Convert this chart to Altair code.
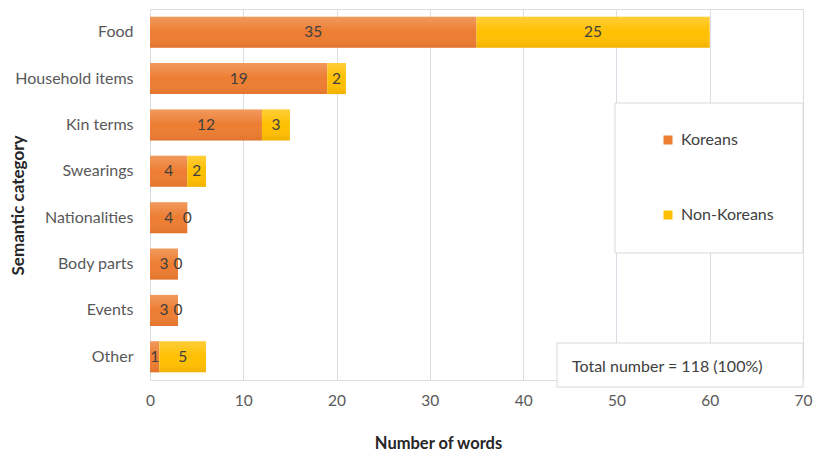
import altair as alt
import pandas as pd

# Words by semantic category, split by speaker group
categories = ["Food", "Household items", "Kin terms", "Swearings",
              "Nationalities", "Body parts", "Events", "Other"]
koreans = [35, 19, 12, 4, 4, 3, 3, 1]
non_koreans = [25, 2, 3, 2, 0, 0, 0, 5]
groups = ["Koreans", "Non-Koreans"]
group_colors = ["#ED7D31", "#FFC000"]
x_ticks = [0, 10, 20, 30, 40, 50, 60, 70]

rows = []
for cat, k, n in zip(categories, koreans, non_koreans):
    rows.append(dict(category=cat, group=groups[0], count=k, start=0, end=k, mid=k / 2))
    rows.append(dict(category=cat, group=groups[1], count=n, start=k, end=k + n, mid=k + n / 2))
df = pd.DataFrame(rows)
total = sum(koreans) + sum(non_koreans)

FONT = "Lato"
TEXT_DARK = "#404040"
AXIS_GREY = "#595959"
W, H = 653, 371

y_enc = alt.Y(
    "category:N",
    sort=categories,
    scale=alt.Scale(paddingInner=0.33, paddingOuter=0.165),
    axis=alt.Axis(
        title="Semantic category",
        labelFont=FONT, labelFontSize=16, labelColor=AXIS_GREY,
        labelPadding=17, ticks=False, domain=False, grid=False,
        titleFont=FONT, titleFontSize=17, titleFontWeight="bold",
        titleColor="#262626", titleAngle=270, titleAlign="center",
        titleBaseline="middle", titleX=-132, titleY=196,
    ),
)
x_scale = alt.Scale(domain=[0, 70], nice=False, zero=True)
x_axis = alt.Axis(
    values=x_ticks, title="Number of words", grid=True, gridColor="#D9DEE6",
    domain=False, ticks=False, labelFlush=False, labelFont=FONT,
    labelFontSize=15.5, labelColor=AXIS_GREY, labelPadding=13,
    titleFont=FONT, titleFontSize=16.5, titleFontWeight="bold",
    titleColor="#262626", titleX=288, titleY=63,
    titleAlign="center", titleBaseline="middle",
)

bars = alt.Chart(df).mark_bar().encode(
    x=alt.X("start:Q", scale=x_scale, axis=x_axis),
    x2="end:Q",
    y=y_enc,
    color=alt.Color(
        "group:N",
        scale=alt.Scale(domain=groups, range=group_colors),
        legend=alt.Legend(
            title=None, orient="none", legendX=510, legendY=123,
            symbolType="square", symbolSize=81, symbolStrokeWidth=0,
            labelFont=FONT, labelFontSize=16, labelColor=TEXT_DARK,
            labelOffset=5, rowPadding=59, padding=0,
        ),
    ),
)

# soft vertical sheen on each bar segment
sheen = alt.Chart(df).mark_bar(
    color=alt.Gradient(
        gradient="linear",
        stops=[
            alt.GradientStop(color="rgba(255,255,255,0.22)", offset=0),
            alt.GradientStop(color="rgba(255,255,255,0.0)", offset=0.5),
            alt.GradientStop(color="rgba(120,40,0,0.10)", offset=1),
        ],
        x1=0, x2=0, y1=0, y2=1,
    )
).encode(x="start:Q", x2="end:Q", y=alt.Y("category:N", sort=categories))

labels = alt.Chart(df).mark_text(
    font=FONT, fontSize=15.5, color=TEXT_DARK, align="center", baseline="middle"
).encode(x="mid:Q", y=alt.Y("category:N", sort=categories), text="count:Q")

one_row = pd.DataFrame({"note": [f"Total number = {total} (100%)"]})

legend_box = alt.Chart(one_row).mark_rect(
    fill="white", stroke="#D9D9D9", strokeWidth=1
).encode(x=alt.value(465), x2=alt.value(653), y=alt.value(94), y2=alt.value(244))

total_box = alt.Chart(one_row).mark_rect(
    fill="white", stroke="#D9D9D9", strokeWidth=1
).encode(x=alt.value(407), x2=alt.value(653), y=alt.value(334), y2=alt.value(378))

total_text = alt.Chart(one_row).mark_text(
    font=FONT, fontSize=16, color=TEXT_DARK, align="left", baseline="middle"
).encode(x=alt.value(422), y=alt.value(358), text="note:N")

chart = alt.layer(bars, sheen, labels, legend_box, total_box, total_text).properties(
    width=W, height=H,
    padding={"left": 150, "top": 9, "right": 12, "bottom": 74},
    autosize=alt.AutoSizeParams(type="none"),
).configure_view(stroke=None).configure(background="white")

chart.save("out.html", embed_options={"renderer": "svg", "actions": False})
